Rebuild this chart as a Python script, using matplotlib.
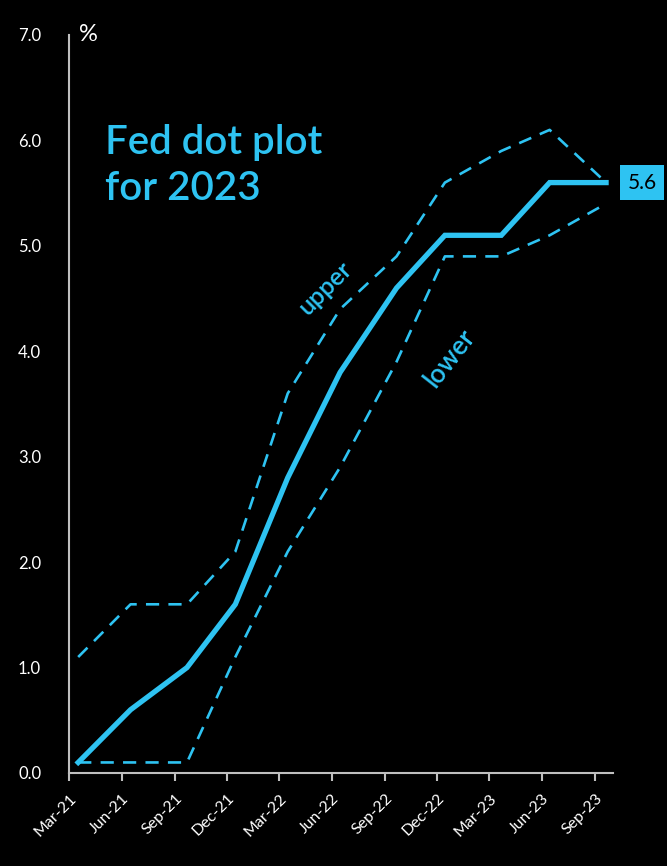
import numpy as np
import pandas as pd
import matplotlib
matplotlib.use("Agg")
import matplotlib.pyplot as plt
import matplotlib.dates as mdates

# FOMC projection dates and median / range of 2023 dots
fechas = ["2021-03-17", "2021-06-16", "2021-09-22", "2021-12-15",
          "2022-03-16", "2022-06-15", "2022-09-21", "2022-12-14",
          "2023-03-22", "2023-06-14", "2023-09-20"]
mediana = [0.1, 0.6, 1.0, 1.6, 2.8, 3.8, 4.6, 5.1, 5.1, 5.6, 5.6]
superior = [1.1, 1.6, 1.6, 2.1, 3.6, 4.4, 4.9, 5.6, 5.9, 6.1, 5.6]
inferior = [0.1, 0.1, 0.1, 1.1, 2.1, 2.9, 3.9, 4.9, 4.9, 5.1, 5.4]
yticks = [0.0, 1.0, 2.0, 3.0, 4.0, 5.0, 6.0, 7.0]

AZUL = "#2EC3F2"
GRIS = "#BFBFBF"

plt.rcParams['font.family'] = ['Lato', 'DejaVu Sans']

x = pd.to_datetime(fechas)

fig = plt.figure(figsize=(6.67, 8.66), dpi=100, facecolor="black")
ax = fig.add_axes([0.1034, 0.1074, 0.8156, 0.8522])
ax.set_facecolor("black")

ax.plot(x, superior, color=AZUL, lw=1.9, dashes=(5, 3.5))
ax.plot(x, inferior, color=AZUL, lw=1.9, dashes=(5, 3.5))
ax.plot(x, mediana, color=AZUL, lw=3.8, solid_joinstyle="miter")

# ── ejes ──
ax.set_xlim(pd.Timestamp("2021-03-01"), pd.Timestamp("2023-10-02"))
ax.set_ylim(0, 7)
ax.set_yticks(yticks)
ax.set_yticklabels([f"{v:.1f}" for v in yticks], color="white", fontsize=12)
ax.tick_params(axis="y", length=0, pad=20)

ax.xaxis.set_major_locator(mdates.MonthLocator(bymonth=[3, 6, 9, 12]))
ax.xaxis.set_major_formatter(mdates.DateFormatter("%b-%y"))
ax.tick_params(axis="x", colors=GRIS, length=6, width=1.5, direction="out", pad=7)
for lbl in ax.get_xticklabels():
    lbl.set_rotation(45)
    lbl.set_ha("right")
    lbl.set_rotation_mode("anchor")
    lbl.set_color("white")
    lbl.set_fontsize(11.5)

for s in ["top", "right"]:
    ax.spines[s].set_visible(False)
for s in ["left", "bottom"]:
    ax.spines[s].set_color(GRIS)
    ax.spines[s].set_linewidth(1.5)

# ── textos ──
fig.text(0.118, 0.960, "%", color="white", fontsize=17, va="center", ha="left")
fig.text(0.157, 0.809, "Fed dot plot\nfor 2023", color=AZUL, fontsize=29,
         fontweight="semibold", va="center", ha="left", linespacing=1.3)
ax.text(pd.Timestamp("2022-05-20"), 4.6, "upper", color=AZUL, fontsize=18,
        fontweight="semibold", rotation=45, ha="center", va="center")
ax.text(pd.Timestamp("2022-12-22"), 3.93, "lower", color=AZUL, fontsize=19,
        fontweight="semibold", rotation=52, ha="center", va="center")
ax.annotate(f"{mediana[-1]:.1f}", xy=(x[-1], mediana[-1]), xytext=(26, 0),
            textcoords="offset points", color="black", fontsize=15,
            ha="center", va="center", annotation_clip=False,
            bbox=dict(boxstyle="square,pad=0.35", fc=AZUL, ec="none"))

plt.savefig("out.png", dpi=100, facecolor="black")
